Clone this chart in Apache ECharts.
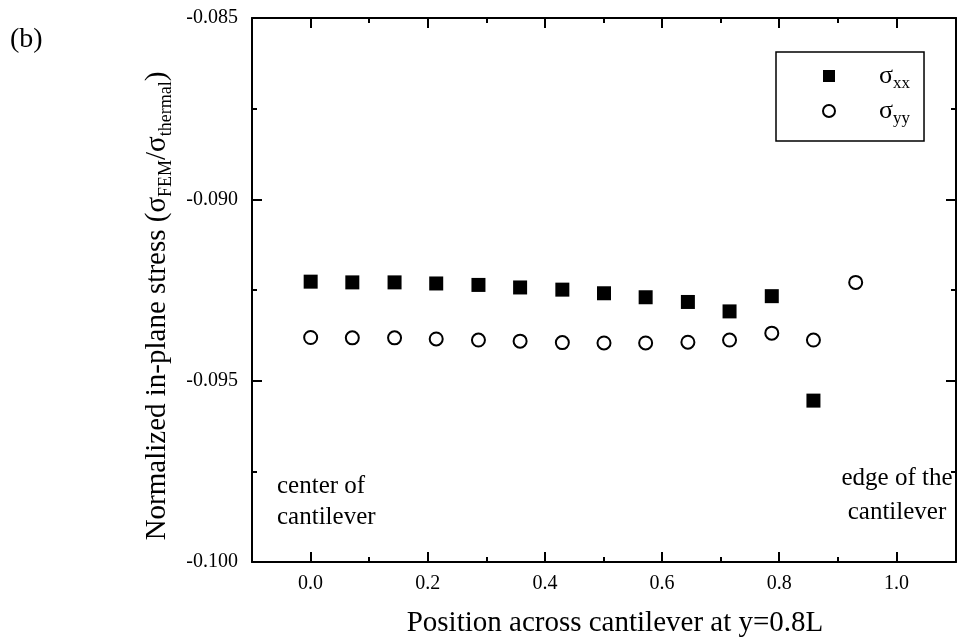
<!DOCTYPE html>
<html><head><meta charset="utf-8">
<script src="https://cdn.jsdelivr.net/npm/echarts@6/dist/echarts.min.js"></script>
<style>html,body{margin:0;padding:0;background:#fff}#c{width:961px;height:644px}</style>
</head><body><div id="c"></div>
<script>
// Position across cantilever (fraction of half-width)
const positions = [0.000, 0.071, 0.143, 0.214, 0.286, 0.357, 0.429, 0.500, 0.571, 0.643, 0.714, 0.786, 0.857, 0.929];
// Normalized in-plane stress, sigma_xx (13 points)
const sigmaXX = [-0.09227, -0.09229, -0.09229, -0.09232, -0.09236, -0.09243, -0.09249, -0.09259, -0.09270, -0.09283, -0.09309, -0.09267, -0.09555];
// Normalized in-plane stress, sigma_yy (14 points)
const sigmaYY = [-0.09381, -0.09382, -0.09382, -0.09385, -0.09388, -0.09391, -0.09395, -0.09396, -0.09396, -0.09394, -0.09388, -0.09369, -0.09388, -0.09229];
const xTickLabels = ['0.0', '0.2', '0.4', '0.6', '0.8', '1.0'];
const yTickLabels = ['-0.100', '-0.095', '-0.090', '-0.085'];
const seriesNames = ['sxx', 'syy'];

const FONT = '"Liberation Serif", "Times New Roman", serif';
const chart = echarts.init(document.getElementById('c'));

const xxData = sigmaXX.map((v, i) => [positions[i], v]);
const yyData = sigmaYY.map((v, i) => [positions[i], v]);

const frameX = {
  min: -0.1, max: 1.1, interval: 0.1,
  axisLine: { show: true, onZero: false, lineStyle: { color: '#000', width: 2 } },
  axisTick: { show: false }, axisLabel: { show: false }, splitLine: { show: false }
};
const tickX = {
  min: 0, max: 1, interval: 0.2,
  axisLine: { show: false, onZero: false },
  axisTick: { show: true, inside: true, length: 10, lineStyle: { color: '#000', width: 2 } },
  minorTick: { show: true, splitNumber: 2, length: 5, lineStyle: { color: '#000', width: 2 } },
  splitLine: { show: false }
};
const yCommon = {
  type: 'value', min: -0.1, max: -0.085, interval: 0.005, gridIndex: 0,
  axisLine: { show: true, onZero: false, lineStyle: { color: '#000', width: 2 } },
  axisTick: { show: true, inside: true, length: 10, lineStyle: { color: '#000', width: 2 } },
  minorTick: { show: true, splitNumber: 2, length: 5, lineStyle: { color: '#000', width: 2 } },
  splitLine: { show: false }
};

chart.setOption({
  backgroundColor: '#fff',
  animation: false,
  grid: [
    { left: 252, right: 5, top: 18, bottom: 82, outerBoundsMode: 'none' },
    { left: 310.6, right: 64.6, top: 18, bottom: 82, outerBoundsMode: 'none' }
  ],
  xAxis: [
    Object.assign({ type: 'value', gridIndex: 0, position: 'bottom',
      name: 'Position across cantilever at y=0.8L', nameLocation: 'middle', nameGap: 47,
      nameTextStyle: { fontFamily: FONT, fontSize: 29, color: '#000', padding: [0, 0, 0, 22] } }, frameX),
    Object.assign({ type: 'value', gridIndex: 0, position: 'top' }, frameX),
    Object.assign({ type: 'value', gridIndex: 1, position: 'bottom',
      axisLabel: { show: true, margin: 12, fontFamily: FONT, fontSize: 20, color: '#000',
        formatter: v => xTickLabels[Math.round(v / 0.2)] } }, tickX),
    Object.assign({ type: 'value', gridIndex: 1, position: 'top', axisLabel: { show: false } }, tickX)
  ],
  yAxis: [
    Object.assign({}, yCommon, { position: 'left',
      axisLabel: { show: true, margin: 14, fontFamily: FONT, fontSize: 20, color: '#000',
        formatter: v => yTickLabels[Math.round((v + 0.1) / 0.005)] },
      name: 'Normalized in-plane stress ({s|σ}{sub|FEM}/{s|σ}{sub|thermal})',
      nameLocation: 'middle', nameGap: 77,
      nameTextStyle: { fontFamily: FONT, fontSize: 29, color: '#000', lineHeight: 36, padding: [0, 32, 0, 0],
        rich: {
          s: { fontFamily: FONT, fontSize: 29, lineHeight: 36, color: '#000' },
          sub: { fontFamily: FONT, fontSize: 18, lineHeight: 16, verticalAlign: 'bottom', color: '#000' }
        } } }),
    Object.assign({}, yCommon, { position: 'right', axisLabel: { show: false } }),
    { type: 'value', gridIndex: 1, show: false, min: -0.1, max: -0.085 }
  ],
  legend: {
    data: seriesNames,
    orient: 'vertical', left: 776, top: 52,
    padding: [11, 14, 14, 46], itemGap: 6,
    itemWidth: 12, itemHeight: 12,
    borderColor: '#000', borderWidth: 1.5, backgroundColor: '#fff',
    formatter: name => name === 'sxx' ? '{g| }{s|σ}{sub|xx}' : '{g| }{s|σ}{sub|yy}',
    textStyle: { fontFamily: FONT, fontSize: 26, color: '#000',
      rich: {
        g: { width: 39, fontSize: 10, lineHeight: 32 },
        s: { fontFamily: FONT, fontSize: 26, lineHeight: 32, color: '#000' },
        sub: { fontFamily: FONT, fontSize: 17, lineHeight: 16, verticalAlign: 'bottom', color: '#000' }
      } }
  },
  series: [
    { name: 'sxx', type: 'scatter', xAxisIndex: 0, yAxisIndex: 0, symbol: 'rect', symbolSize: 14,
      itemStyle: { color: '#000', opacity: 1 }, emphasis: { disabled: true }, data: xxData },
    { name: 'syy', type: 'scatter', xAxisIndex: 0, yAxisIndex: 0, symbol: 'circle', symbolSize: 13,
      itemStyle: { color: '#fff', borderColor: '#000', borderWidth: 2, opacity: 1 }, emphasis: { disabled: true }, data: yyData }
  ],
  graphic: [
    { type: 'text', x: 10, y: 26, style: { text: '(b)', font: '28px ' + FONT, fill: '#000' } },
    { type: 'text', x: 277, y: 471, style: { text: 'center of\ncantilever', font: '25px ' + FONT, fill: '#000', lineHeight: 31 } },
    { type: 'text', x: 897, y: 461, style: { text: 'edge of the\ncantilever', font: '25px ' + FONT, fill: '#000', lineHeight: 34, align: 'center' } }
  ]
});
</script>
</body></html>
